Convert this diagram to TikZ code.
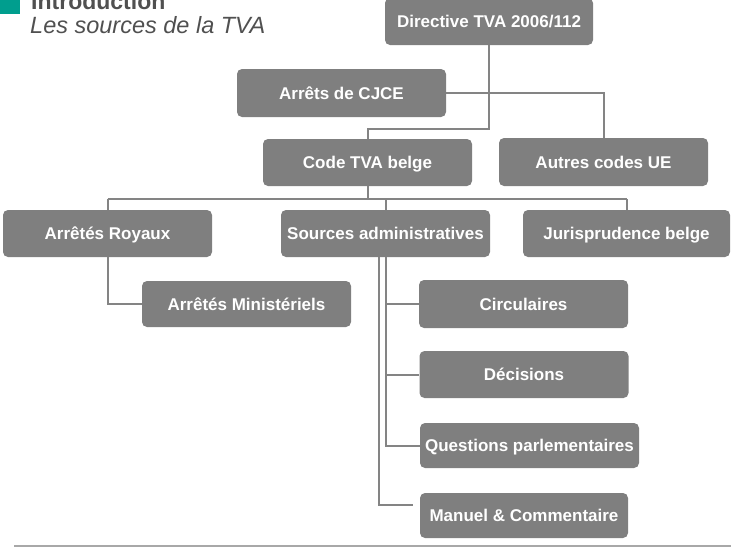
\documentclass[tikz,border=0pt]{standalone}
\usepackage{fontspec}
\setmainfont{Liberation Sans}
\definecolor{boxgray}{HTML}{7F7F7F}
\definecolor{linegray}{HTML}{848484}
\definecolor{titlegray}{HTML}{505050}
\definecolor{teal}{HTML}{009E8E}
\definecolor{rulegray}{HTML}{A8A8A8}
\begin{document}
\begin{tikzpicture}[x=1pt,y=-1pt,
  box/.style={rectangle, rounded corners=5pt, fill=boxgray, text=white,
    font=\fontsize{17}{20}\selectfont\bfseries, inner sep=0pt,
    text height=12pt, text depth=0pt,
    minimum width=209pt, minimum height=47pt},
  link/.style={draw=linegray, line width=2pt},
  titletext/.style={anchor=base west, inner sep=0pt, text=titlegray}]
\useasboundingbox (0,0) rectangle (731,552);

% title
\fill[teal] (0,-2) rectangle (20,14);
\node[titletext, font=\fontsize{23}{26}\selectfont\bfseries] (intro) at (31,9) {Introduction};
\node[titletext, font=\fontsize{23.5}{26}\selectfont\itshape] (sub) at (30,33) {Les sources de la TVA};

% boxes
\node[box, minimum width=208pt, minimum height=47pt] (dir) at (489,21.5) {Directive TVA 2006/112};
\node[box, minimum height=48pt] (cjce) at (341.5,93) {Arrêts de CJCE};
\node[box] (code) at (367.5,162.5) {Code TVA belge};
\node[box, minimum height=48pt] (autres) at (603.5,162) {Autres codes UE};
\node[box] (royaux) at (107.5,233.5) {Arrêtés Royaux};
\node[box] (sources) at (385.5,233.5) {Sources administratives};
\node[box, minimum width=207pt] (juris) at (626.5,233.5) {Jurisprudence belge};
\node[box, minimum height=46pt] (mini) at (246.5,304) {Arrêtés Ministériels};
\node[box, minimum height=48pt] (circ) at (523.5,304) {Circulaires};
\node[box] (dec) at (524,374.5) {Décisions};
\node[box, minimum width=219pt, minimum height=45pt] (quest) at (529.5,445.5) {Questions parlementaires};
\node[box, minimum width=208pt, minimum height=45pt] (manuel) at (524,515.5) {Manuel \& Commentaire};

% connectors
\coordinate (j1) at (489,129);
\coordinate (j2) at (367.5,199);
\coordinate (mend) at (413,505);
\draw[link] (dir.south) -- (j1) -| (code.north);
\draw[link] (cjce.east) -| ([xshift=0.5pt]autres.north);
\draw[link] (code.south) -- (j2);
\draw[link] (j2 -| royaux.north) -- (j2 -| juris.north);
\draw[link] (j2 -| royaux.north) -- (royaux.north);
\draw[link] (j2 -| sources.north) -- (sources.north);
\draw[link] (j2 -| juris.north) -- (juris.north);
\draw[link] (royaux.south) |- (mini.west);
\draw[link] (sources.south) |- (quest.west);
\draw[link] (sources.south |- circ.west) -- (circ.west);
\draw[link] (sources.south |- dec.west) -- (dec.west);
\draw[link] ([xshift=-7pt]sources.south) |- (mend);

% bottom rule
\draw[draw=rulegray, line width=1.5pt] (14,546) -- (731,546);
\end{tikzpicture}
\end{document}
